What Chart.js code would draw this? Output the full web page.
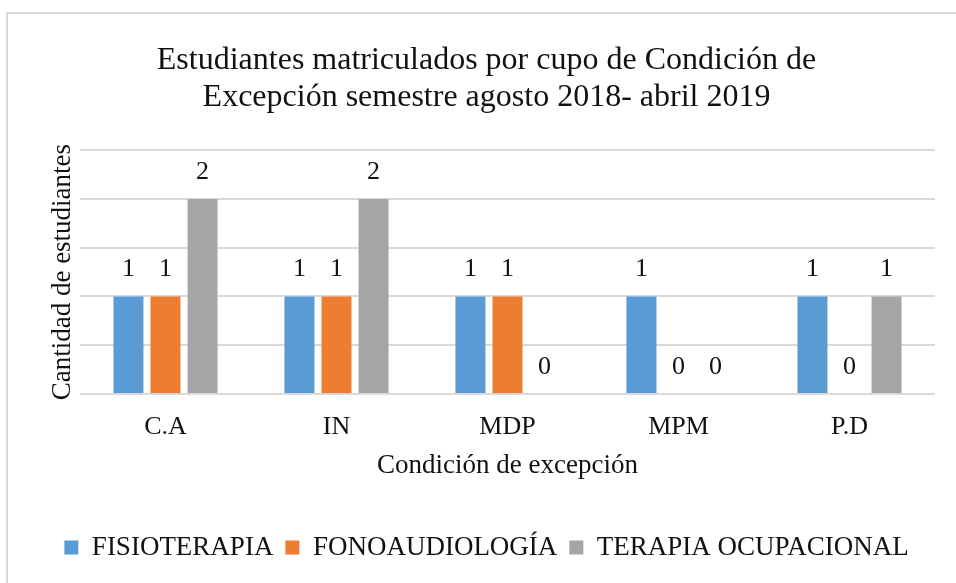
<!DOCTYPE html>
<html>
<head>
<meta charset="utf-8">
<script src="https://cdn.jsdelivr.net/npm/chart.js@4"></script>
<style>
  body { margin: 0; background: #fff; overflow: hidden; }
  #frame { position: absolute; left: 6px; top: 12px; width: 1000px; height: 700px; border: 2px solid #d9d9d9; box-sizing: border-box; }
  #wrap { position: absolute; left: 0; top: 0; width: 956px; height: 583px; }
</style>
</head>
<body>
<div id="frame"></div>
<div id="wrap"><canvas id="chart" width="956" height="583"></canvas></div>
<script>
// --- DATA ---
const categories = ["C.A", "IN", "MDP", "MPM", "P.D"];
const fisioterapia = [1, 1, 1, 1, 1];
const fonoaudiologia = [1, 1, 1, 0, 0];
const terapiaOcupacional = [2, 2, 0, 0, 1];
const yTicks = [0, 0.5, 1, 1.5, 2, 2.5];

const serif = "'Liberation Serif', 'Times New Roman', serif";
const textColor = "#111";

// draws the value above each bar
const valueLabels = {
    id: "valueLabels",
    afterDatasetsDraw(chart) {
        const ctx = chart.ctx;
        ctx.save();
        ctx.font = "26px " + serif;
        ctx.fillStyle = textColor;
        ctx.textAlign = "center";
        ctx.textBaseline = "middle";
        chart.data.datasets.forEach((ds, i) => {
            chart.getDatasetMeta(i).data.forEach((bar, j) => {
                ctx.fillText(String(ds.data[j]), bar.x, bar.y - 27);
            });
        });
        ctx.restore();
    }
};

new Chart(document.getElementById("chart"), {
    type: "bar",
    data: {
        labels: categories,
        datasets: [
            { label: "FISIOTERAPIA", data: fisioterapia, backgroundColor: "#5b9bd5" },
            { label: "FONOAUDIOLOGÍA", data: fonoaudiologia, backgroundColor: "#ed7d31" },
            { label: "TERAPIA OCUPACIONAL", data: terapiaOcupacional, backgroundColor: "#a5a5a5" }
        ]
    },
    options: {
        responsive: false,
        animation: false,
        categoryPercentage: 0.65,
        barPercentage: 0.81,
        layout: { padding: { top: 24, right: 21, left: 38, bottom: 12 } },
        plugins: {
            title: {
                display: true,
                text: ["Estudiantes matriculados por cupo de Condición de", "Excepción semestre agosto 2018- abril 2019"],
                font: { family: serif, size: 32, weight: "normal", lineHeight: 1.16 },
                color: textColor,
                padding: { top: 18, bottom: 34 }
            },
            legend: {
                position: "bottom",
                labels: {
                    font: { family: serif, size: 27 },
                    color: textColor,
                    boxWidth: 14,
                    boxHeight: 14,
                    padding: 12
                }
            },
            tooltip: { enabled: false }
        },
        scales: {
            x: {
                grid: { display: false },
                border: { display: false },
                ticks: { font: { family: serif, size: 26 }, color: textColor, padding: 10 },
                title: {
                    display: true,
                    text: "Condición de excepción",
                    font: { family: serif, size: 27 },
                    color: textColor,
                    padding: { top: 0, bottom: 40 }
                },
                afterFit: (scale) => { scale.height = 128; }
            },
            y: {
                min: 0,
                max: 2.5,
                afterBuildTicks: (scale) => { scale.ticks = yTicks.map(v => ({ value: v })); },
                ticks: { display: false },
                grid: { color: "#d9d9d9", lineWidth: 2, drawTicks: false },
                border: { display: false },
                title: {
                    display: true,
                    text: "Cantidad de estudiantes",
                    font: { family: serif, size: 27 },
                    color: textColor,
                    padding: { top: 9, bottom: 0 }
                },
                afterFit: (scale) => { scale.width = 42; }
            }
        }
    },
    plugins: [valueLabels]
});
</script>
</body>
</html>
